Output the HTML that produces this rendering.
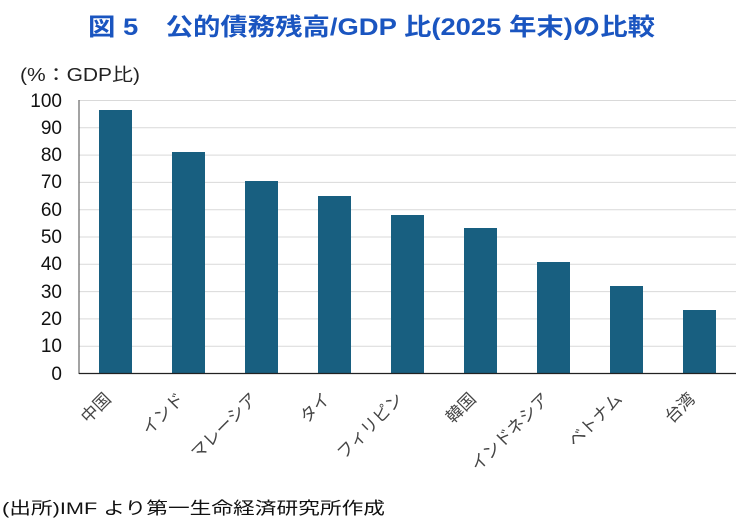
<!DOCTYPE html>
<html><head><meta charset="utf-8"><style>
body{margin:0;background:#fff;width:740px;height:520px;overflow:hidden}
svg{display:block;font-family:"Liberation Sans","Noto Sans CJK JP",sans-serif}
</style></head><body>
<svg width="740" height="520" viewBox="0 0 740 520">
<text x="88" y="35" font-size="24" font-weight="bold" fill="#1a55c0" textLength="567" lengthAdjust="spacingAndGlyphs">図 5　公的債務残高/GDP 比(2025 年末)の比較</text>
<text x="20" y="81" font-size="18" fill="#222" textLength="120" lengthAdjust="spacingAndGlyphs">(%：GDP比)</text>
<g stroke="#d9d9d9" stroke-width="1">
<line x1="79" x2="736" y1="100.5" y2="100.5"/><line x1="79" x2="736" y1="127.8" y2="127.8"/>
<line x1="79" x2="736" y1="155.1" y2="155.1"/><line x1="79" x2="736" y1="182.4" y2="182.4"/>
<line x1="79" x2="736" y1="209.7" y2="209.7"/><line x1="79" x2="736" y1="237" y2="237"/>
<line x1="79" x2="736" y1="264.3" y2="264.3"/><line x1="79" x2="736" y1="291.6" y2="291.6"/>
<line x1="79" x2="736" y1="318.9" y2="318.9"/><line x1="79" x2="736" y1="346.2" y2="346.2"/>
</g>
<g font-size="19" fill="#111" text-anchor="end">
<text x="62" y="107">100</text><text x="62" y="134">90</text><text x="62" y="161">80</text>
<text x="62" y="188">70</text><text x="62" y="216">60</text><text x="62" y="243">50</text>
<text x="62" y="270">40</text><text x="62" y="298">30</text><text x="62" y="325">20</text>
<text x="62" y="352">10</text><text x="62" y="380">0</text>
</g>
<g fill="#185f80">
<rect x="99" y="110" width="33" height="263.5"/>
<rect x="172" y="152" width="33" height="221.5"/>
<rect x="245" y="181" width="33" height="192.5"/>
<rect x="318" y="196" width="33" height="177.5"/>
<rect x="391" y="215" width="33" height="158.5"/>
<rect x="464" y="228" width="33" height="145.5"/>
<rect x="537" y="262" width="33" height="111.5"/>
<rect x="610" y="286" width="33" height="87.5"/>
<rect x="683" y="310" width="33" height="63.5"/>
</g>
<line x1="79" x2="79" y1="100" y2="374" stroke="#666" stroke-width="1.2"/>
<line x1="79" x2="736" y1="373.5" y2="373.5" stroke="#222" stroke-width="1.2"/>
<g font-size="17" fill="#444" text-anchor="end">
<text transform="translate(112,400) rotate(-45)">中国</text>
<text transform="translate(185,400) rotate(-45)">インド</text>
<text transform="translate(258,400) rotate(-45)">マレーシア</text>
<text transform="translate(331,400) rotate(-45)">タイ</text>
<text transform="translate(404,400) rotate(-45)">フィリピン</text>
<text transform="translate(477,400) rotate(-45)">韓国</text>
<text transform="translate(550,400) rotate(-45)">インドネシア</text>
<text transform="translate(623,400) rotate(-45)">ベトナム</text>
<text transform="translate(696,400) rotate(-45)">台湾</text>
</g>
<text x="2" y="514" font-size="17" fill="#111" textLength="383" lengthAdjust="spacingAndGlyphs">(出所)IMF より第一生命経済研究所作成</text>
</svg>
</body></html>
